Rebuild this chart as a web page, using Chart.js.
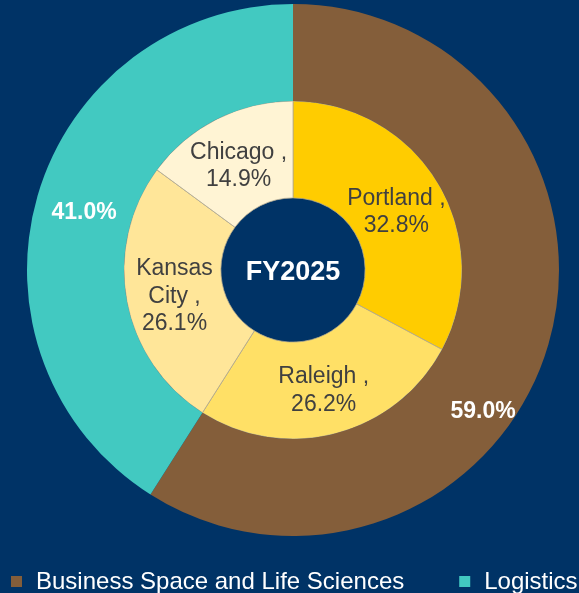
<!DOCTYPE html>
<html>
<head>
<meta charset="utf-8">
<script src="https://cdn.jsdelivr.net/npm/chart.js@4.4.1/dist/chart.umd.min.js"></script>
<style>
  html, body { margin: 0; padding: 0; background: #003366; }
  #wrap { width: 579px; height: 593px; }
</style>
</head>
<body>
<div id="wrap"><canvas id="donut" width="579" height="593"></canvas></div>
<script>
// outer ring: sectors
const sectors = ["Business Space and Life Sciences", "Logistics"];
const sectorShares = [59.0, 41.0];
// inner ring: markets
const cities = ["Portland", "Raleigh", "Kansas City", "Chicago"];
const cityShares = [32.8, 26.2, 26.1, 14.9];
const centerText = "FY2025";

const sectorColors = ["#845E3A", "#42C9C1"];
const cityColors = ["#FFCC00", "#FFE066", "#FFE699", "#FFF4D4"];
const FONT = "'Liberation Sans', Arial, sans-serif";

function wrap(ctx, text, maxW) {
    const words = text.split(" ");
    const lines = [];
    let cur = "";
    words.forEach(w => {
        const test = cur ? cur + " " + w : w;
        if (cur && ctx.measureText(test).width > maxW) { lines.push(cur); cur = w; }
        else cur = test;
    });
    if (cur) lines.push(cur);
    return lines;
}

const ringLabels = {
    id: "ringLabels",
    afterDatasetsDraw(chart, args, opts) {
        const ctx = chart.ctx;
        ctx.save();
        ctx.textAlign = "center";
        ctx.textBaseline = "middle";
        chart.data.datasets.forEach((ds, di) => {
            const meta = chart.getDatasetMeta(di);
            meta.data.forEach((arc, i) => {
                const p = arc.getProps(["x", "y", "startAngle", "endAngle", "innerRadius", "outerRadius"], true);
                let a = (p.startAngle + p.endAngle) / 2;
                let r = (p.innerRadius + p.outerRadius) / 2;
                const shift = (opts.shifts[di] || [])[i];
                if (shift) { a += shift.angle * Math.PI / 180; r += shift.r; }
                const lx = p.x + Math.cos(a) * r;
                const ly = p.y + Math.sin(a) * r;
                const val = ds.data[i].toFixed(1) + "%";
                let lines, dy;
                if (di === 0) {
                    ctx.font = "bold 23px " + FONT;
                    ctx.fillStyle = "#FFFFFF";
                    lines = [val];
                    dy = 3;
                } else {
                    ctx.font = "23px " + FONT;
                    ctx.fillStyle = "#404040";
                    lines = wrap(ctx, ds.names[i] + " ,", 112).concat([val]);
                    dy = 4;
                }
                const lh = 27.5;
                const y0 = ly + dy - (lines.length - 1) * lh / 2;
                lines.forEach((t, k) => ctx.fillText(t, lx, y0 + k * lh));
            });
        });
        // center label
        const c = chart.getDatasetMeta(0).data[0];
        ctx.font = "bold 27px " + FONT;
        ctx.fillStyle = "#FFFFFF";
        ctx.fillText(centerText, c.x, c.y + 3);
        ctx.restore();
    }
};

const bottomLegend = {
    id: "bottomLegend",
    afterDraw(chart) {
        const ctx = chart.ctx;
        ctx.save();
        ctx.font = "24px " + FONT;
        ctx.textBaseline = "middle";
        ctx.textAlign = "left";
        let x = 11;
        const y = 582;
        chart.data.labels.forEach((lab, i) => {
            ctx.fillStyle = chart.data.datasets[0].backgroundColor[i];
            ctx.fillRect(x, y - 6, 11, 11);
            ctx.fillStyle = "#FFFFFF";
            ctx.fillText(lab, x + 25, y);
            x += 25 + ctx.measureText(lab).width + 55;
        });
        ctx.restore();
    }
};

new Chart(document.getElementById("donut"), {
    type: "doughnut",
    data: {
        labels: sectors,
        datasets: [
            { data: sectorShares, backgroundColor: sectorColors, borderWidth: 0 },
            { data: cityShares, names: cities, backgroundColor: cityColors,
              borderColor: "#B0A890", borderWidth: 0.75 }
        ]
    },
    options: {
        responsive: false,
        animation: false,
        radius: 266,
        cutout: "27.1%",
        layout: { padding: { left: 7, top: 4, right: 0, bottom: 57 } },
        plugins: {
            legend: { display: false },
            tooltip: { enabled: false },
            ringLabels: { shifts: [[{ angle: 20, r: 18 }], []] }
        }
    },
    plugins: [ringLabels, bottomLegend]
});
</script>
</body>
</html>
